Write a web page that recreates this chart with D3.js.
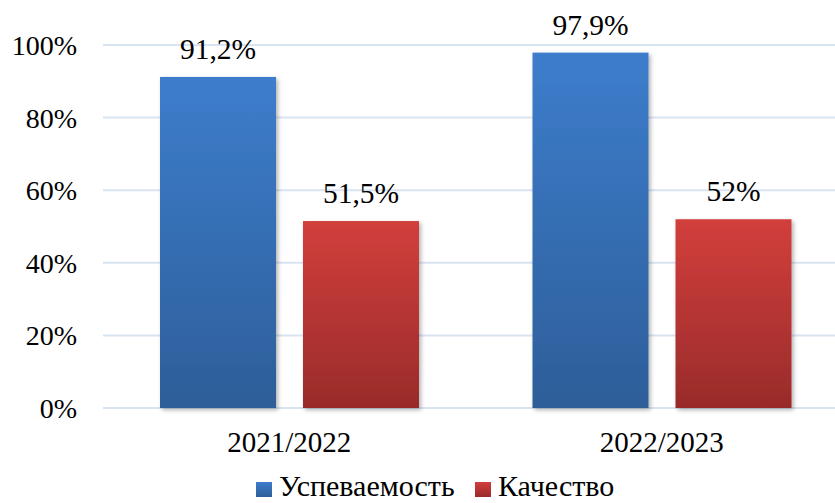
<!DOCTYPE html>
<html>
<head>
<meta charset="utf-8">
<script src="https://cdn.jsdelivr.net/npm/d3@7"></script>
<style>
  body { margin: 0; background: #fff; }
</style>
</head>
<body>
<div id="chart"></div>
<script>
// data
const years = ["2021/2022", "2022/2023"];
const seriesNames = ["Успеваемость", "Качество"];
const uspevaemost = [91.2, 97.9];
const kachestvo = [51.5, 52];
const valueLabels = [["91,2%", "51,5%"], ["97,9%", "52%"]];
const yTicks = [0, 20, 40, 60, 80, 100];

const width = 835;
const height = 503;
const margin = { top: 45, left: 103 };
const plotRight = 848;
const FONT = "Liberation Serif";

const svg = d3.select("#chart").append("svg")
  .attr("width", width)
  .attr("height", height);

const defs = svg.append("defs");
function grad(id, top, bottom) {
  const g = defs.append("linearGradient").attr("id", id)
    .attr("x1", 0).attr("y1", 0).attr("x2", 0).attr("y2", 1);
  g.append("stop").attr("offset", "0%").attr("stop-color", top);
  g.append("stop").attr("offset", "100%").attr("stop-color", bottom);
}
grad("gBlue", "#3d7dcc", "#2d5e99");
grad("gRed", "#d23f3c", "#992b2a");
const shadow = defs.append("filter").attr("id", "shadow")
  .attr("x", "-10%").attr("y", "-10%").attr("width", "130%").attr("height", "130%");
shadow.append("feDropShadow").attr("dx", 2).attr("dy", 2)
  .attr("stdDeviation", 2).attr("flood-color", "#000").attr("flood-opacity", 0.3);

const fills = ["url(#gBlue)", "url(#gRed)"];

const y = d3.scaleLinear().domain([0, 100]).range([408, margin.top]);
const x0 = d3.scaleBand().domain(years).range([margin.left, plotRight]);
const x1 = d3.scaleBand().domain(seriesNames).range([57, 57 + 259]).paddingInner(27 / 143);

// gridlines
svg.append("g").selectAll("line").data(yTicks).join("line")
  .attr("x1", margin.left).attr("x2", plotRight)
  .attr("y1", d => y(d)).attr("y2", d => y(d))
  .attr("stroke", "#d9e4f2").attr("stroke-width", 2);

// y axis labels
svg.append("g").selectAll("text").data(yTicks).join("text")
  .attr("x", 77).attr("y", d => y(d) + 10)
  .attr("text-anchor", "end")
  .attr("font-family", FONT)
  .attr("font-size", 28)
  .text(d => d + "%");

// bars
const rows = years.map((yr, i) => ({
  year: yr,
  values: [uspevaemost[i], kachestvo[i]],
  labels: valueLabels[i]
}));

const groups = svg.append("g").selectAll("g").data(rows).join("g")
  .attr("transform", d => `translate(${x0(d.year)},0)`);

groups.selectAll("rect").data(d => d.values.map((v, j) => ({ v, j })))
  .join("rect")
  .attr("x", d => x1(seriesNames[d.j]))
  .attr("width", x1.bandwidth())
  .attr("y", d => y(d.v))
  .attr("height", d => y(0) - y(d.v))
  .attr("fill", d => fills[d.j])
  .attr("filter", "url(#shadow)");

groups.selectAll("text").data(d => d.values.map((v, j) => ({ v, j, label: d.labels[j] })))
  .join("text")
  .attr("x", d => x1(seriesNames[d.j]) + x1.bandwidth() / 2)
  .attr("y", d => y(d.v) - 18)
  .attr("text-anchor", "middle")
  .attr("font-family", FONT)
  .attr("font-size", 29.5)
  .text(d => d.label);

// category labels
svg.append("g").selectAll("text").data(years).join("text")
  .attr("x", d => x0(d) + x0.bandwidth() / 2)
  .attr("y", 452)
  .attr("text-anchor", "middle")
  .attr("font-family", FONT)
  .attr("font-size", 29)
  .text(d => d);

// legend
const legendX = [256, 475];
const legend = svg.append("g").selectAll("g").data(seriesNames).join("g")
  .attr("transform", (d, i) => `translate(${legendX[i]},482)`);
legend.append("rect")
  .attr("width", 16).attr("height", 15)
  .attr("fill", (d, i) => fills[i]);
legend.append("text")
  .attr("x", 23).attr("y", 14)
  .attr("font-family", FONT)
  .attr("font-size", 30)
  .text(d => d);
</script>
</body>
</html>
